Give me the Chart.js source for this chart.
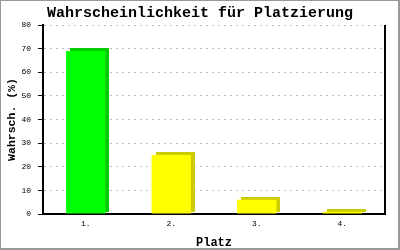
<!DOCTYPE html>
<html>
<head>
<meta charset="utf-8">
<script src="https://cdn.jsdelivr.net/npm/chart.js@4"></script>
<style>
  html, body { margin: 0; padding: 0; background: #fff; }
  #box { width: 400px; height: 250px; position: relative; }
</style>
</head>
<body>
<div id="box"><canvas id="platzChart"></canvas></div>
<script>
var platzLabels = ["1.", "2.", "3.", "4."];
var platzWerte = [69, 25, 6, 1];
var barFarben = ["#00ff00", "#ffff00", "#ffff00", "#ffff00"];
var seitenFarben = ["#00cc00", "#cccc00", "#cccc00", "#cccc00"];
var yTicks = [0, 10, 20, 30, 40, 50, 60, 70, 80];

var mono = "'Liberation Mono', 'DejaVu Sans Mono', monospace";

// dunkle Seite hinter jedem Balken (3D-Effekt)
const schattenPlugin = {
    id: 'schatten',
    beforeDatasetsDraw(chart) {
        const ctx = chart.ctx;
        const meta = chart.getDatasetMeta(0);
        ctx.save();
        meta.data.forEach(function (bar, i) {
            const p = bar.getProps(['x', 'y', 'base', 'width'], true);
            ctx.fillStyle = seitenFarben[i];
            ctx.fillRect(Math.round(p.x - p.width / 2) + 4, Math.round(p.y) - 3, Math.round(p.width), Math.round(p.base - p.y) + 1);
        });
        ctx.restore();
    }
};

// rechte Achsenlinie und Bildrahmen
const rahmenPlugin = {
    id: 'rahmen',
    afterDraw(chart) {
        const ctx = chart.ctx;
        const a = chart.chartArea;
        ctx.save();
        ctx.strokeStyle = '#000';
        ctx.lineWidth = 2;
        ctx.beginPath();
        ctx.moveTo(a.right, a.top);
        ctx.lineTo(a.right, a.bottom + 1);
        ctx.stroke();
        ctx.strokeStyle = '#999';
        ctx.lineWidth = 1;
        ctx.strokeRect(0.5, 0.5, chart.width - 1.5, chart.height - 1.5);
        ctx.lineWidth = 2;
        ctx.beginPath();
        ctx.moveTo(chart.width - 1, 0);
        ctx.lineTo(chart.width - 1, chart.height);
        ctx.moveTo(0, chart.height - 1);
        ctx.lineTo(chart.width, chart.height - 1);
        ctx.stroke();
        ctx.restore();
    }
};

const platzChart = new Chart('platzChart', {
    type: 'bar',
    data: {
        labels: platzLabels,
        datasets: [{
            data: platzWerte,
            backgroundColor: barFarben,
            borderWidth: 0,
            categoryPercentage: 1,
            barPercentage: 0.46
        }]
    },
    options: {
        responsive: true,
        maintainAspectRatio: false,
        animation: false,
        layout: { padding: 0 },
        plugins: {
            legend: { display: false },
            tooltip: { enabled: false },
            title: {
                display: true,
                text: 'Wahrscheinlichkeit für Platzierung',
                color: '#000',
                font: { family: mono, size: 15, weight: 'bold' },
                padding: { top: 4, bottom: 3 }
            }
        },
        scales: {
            x: {
                grid: { display: false, drawTicks: false },
                border: { display: true, color: '#000', width: 2 },
                ticks: { color: '#000', padding: 5, font: { family: mono, size: 8 } },
                title: {
                    display: true,
                    text: 'Platz',
                    color: '#000',
                    font: { family: mono, size: 12, weight: 'bold' },
                    padding: { top: 2, bottom: 0 }
                },
                afterFit: function (scale) { scale.height = 36; }
            },
            y: {
                min: 0,
                max: 80,
                afterBuildTicks: function (scale) {
                    scale.ticks = yTicks.map(function (v) { return { value: v }; });
                },
                grid: {
                    color: '#bbb',
                    tickColor: '#000',
                    tickLength: 5,
                    tickBorderDash: []
                },
                border: { display: true, color: '#000', width: 2, dash: [2, 4] },
                ticks: { color: '#000', padding: 7, font: { family: mono, size: 8 } },
                title: {
                    display: true,
                    text: 'Wahrsch. (%)',
                    color: '#000',
                    font: { family: mono, size: 11.5, weight: 'bold' },
                    padding: { top: 5, bottom: 0 }
                },
                afterFit: function (scale) { scale.width = 43; }
            },
            // leerer Rand rechts, damit der Titel mittig bleibt
            rechts: {
                position: 'right',
                display: true,
                grid: { display: false, drawTicks: false },
                border: { display: false },
                ticks: { display: false },
                afterFit: function (scale) { scale.width = 15; }
            }
        }
    },
    plugins: [schattenPlugin, rahmenPlugin]
});
</script>
</body>
</html>
